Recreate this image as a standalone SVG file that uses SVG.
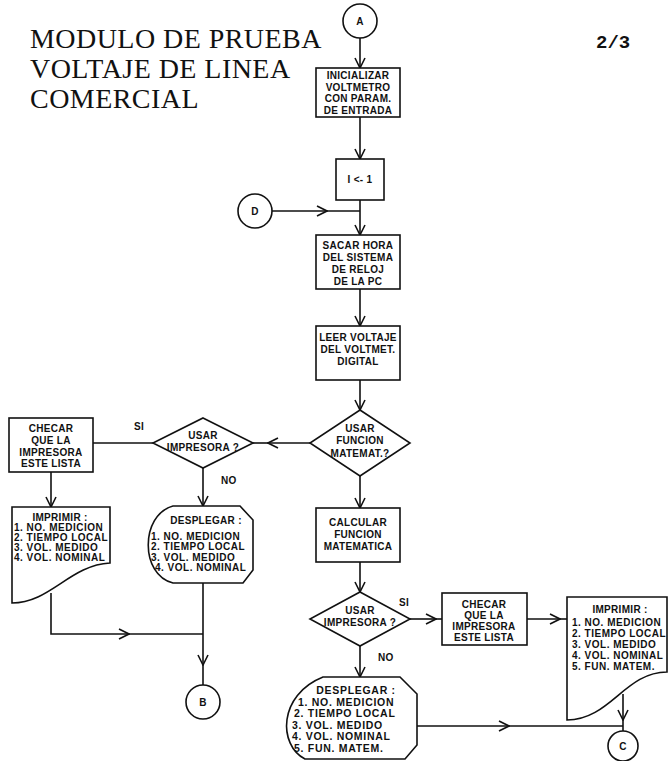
<svg xmlns="http://www.w3.org/2000/svg" width="668" height="761" viewBox="0 0 668 761">
  <style>
    .shape { fill: #ffffff; stroke: #111111; stroke-width: 1.6; }
    .wire { fill: none; stroke: #111111; stroke-width: 1.6; }
    .arrow { fill: none; stroke: #111111; stroke-width: 1.6; marker-end: url(#chev); }
    .t { font-family: "Liberation Sans", Arial, sans-serif; font-weight: bold; font-size: 10px; fill: #111111; letter-spacing: 0.3px; }
    .c { text-anchor: middle; }
    .list { letter-spacing: 0.5px; }
    .wide { font-size: 10.5px; letter-spacing: 0.7px; }
    .title { font-family: "Liberation Serif", "Times New Roman", serif; font-size: 28px; letter-spacing: 0.45px; fill: #111111; }
    .page { font-family: "Liberation Mono", "Courier New", monospace; font-size: 19px; font-weight: bold; fill: #111111; }
  </style>
  <defs>
    <marker id="chev" markerUnits="userSpaceOnUse" markerWidth="12" markerHeight="12" viewBox="0 0 12 12" refX="11" refY="6" orient="auto">
      <path d="M1,1 L11,6 L1,11" fill="none" stroke="#111111" stroke-width="1.6"/>
    </marker>
  </defs>
  <rect width="668" height="761" fill="#ffffff"/>

  <!-- heading and sheet number -->
  <g id="heading">
    <text class="title" x="30" y="48">MODULO DE PRUEBA</text>
    <text class="title" x="30" y="78">VOLTAJE DE LINEA</text>
    <text class="title" x="30" y="108">COMERCIAL</text>
    <text class="page" x="596" y="48">2/3</text>
  </g>

  <!-- connectors -->
  <g id="connectors">
    <line class="arrow" x1="360" y1="38" x2="360" y2="68"/>
    <line class="arrow" x1="360" y1="117" x2="360" y2="159"/>
    <line class="arrow" x1="360" y1="200" x2="360" y2="235"/>
    <line class="arrow" x1="272" y1="211" x2="327" y2="211"/>
    <line class="wire" x1="327" y1="211" x2="360" y2="211"/>
    <line class="arrow" x1="360" y1="289" x2="360" y2="326"/>
    <line class="arrow" x1="360" y1="380" x2="360" y2="410"/>
    <line class="arrow" x1="310" y1="443" x2="268" y2="443"/>
    <line class="wire" x1="268" y1="443" x2="253" y2="443"/>
    <line class="wire" x1="153" y1="443" x2="93" y2="443"/>
    <line class="arrow" x1="51" y1="472" x2="51" y2="507"/>
    <line class="arrow" x1="203" y1="468" x2="203" y2="506"/>
    <path class="arrow" d="M51,593 V634 H129"/>
    <line class="wire" x1="129" y1="634" x2="203" y2="634"/>
    <line class="arrow" x1="203" y1="583" x2="203" y2="665"/>
    <line class="wire" x1="203" y1="665" x2="203" y2="685"/>
    <line class="arrow" x1="360" y1="476" x2="360" y2="508"/>
    <line class="arrow" x1="360" y1="562" x2="360" y2="592"/>
    <line class="arrow" x1="410" y1="619" x2="436" y2="619"/>
    <line class="wire" x1="436" y1="619" x2="442" y2="619"/>
    <line class="arrow" x1="527" y1="619" x2="560" y2="619"/>
    <line class="wire" x1="560" y1="619" x2="567" y2="619"/>
    <line class="arrow" x1="360" y1="646" x2="360" y2="677"/>
    <line class="arrow" x1="417" y1="726" x2="509" y2="726"/>
    <line class="wire" x1="509" y1="726" x2="623" y2="726"/>
    <line class="arrow" x1="623" y1="694" x2="623" y2="720"/>
    <line class="wire" x1="623" y1="720" x2="623" y2="731"/>
    <text class="t" x="134" y="430">SI</text>
    <text class="t" x="221" y="484">NO</text>
    <text class="t" x="399" y="606">SI</text>
    <text class="t" x="378" y="661">NO</text>
  </g>

  <!-- main column -->
  <g id="conn-a">
    <circle class="shape" cx="360" cy="21" r="17"/>
    <text class="t c" x="360" y="25" font-size="9">A</text>
  </g>
  <g id="init-voltmeter">
    <rect class="shape" x="316" y="68" width="84" height="49"/>
    <text class="t c" x="358" y="79">INICIALIZAR</text>
    <text class="t c" x="358" y="90.5">VOLTMETRO</text>
    <text class="t c" x="358" y="102">CON PARAM.</text>
    <text class="t c" x="358" y="113.5">DE ENTRADA</text>
  </g>
  <g id="set-index">
    <rect class="shape" x="336" y="159" width="48" height="41"/>
    <text class="t c" x="360" y="183">I &lt;- 1</text>
  </g>
  <g id="conn-d">
    <circle class="shape" cx="255" cy="211" r="17"/>
    <text class="t c" x="255" y="215" font-size="9">D</text>
  </g>
  <g id="read-clock">
    <rect class="shape" x="316" y="235" width="84" height="54"/>
    <text class="t c" x="358" y="249">SACAR HORA</text>
    <text class="t c" x="358" y="261">DEL SISTEMA</text>
    <text class="t c" x="358" y="273">DE RELOJ</text>
    <text class="t c" x="358" y="285">DE LA PC</text>
  </g>
  <g id="read-voltage">
    <rect class="shape" x="316" y="326" width="84" height="54"/>
    <text class="t c" x="358" y="341">LEER VOLTAJE</text>
    <text class="t c" x="358" y="353">DEL VOLTMET.</text>
    <text class="t c" x="358" y="365">DIGITAL</text>
  </g>
  <g id="ask-function">
    <polygon class="shape" points="360,410 410,443 360,476 310,443"/>
    <text class="t c" x="360" y="432">USAR</text>
    <text class="t c" x="360" y="444">FUNCION</text>
    <text class="t c" x="360" y="457">MATEMAT.?</text>
  </g>

  <!-- branch without function -->
  <g id="ask-printer-1">
    <polygon class="shape" points="203,418 253,443 203,468 153,443"/>
    <text class="t c" x="203" y="439">USAR</text>
    <text class="t c" x="203" y="451">IMPRESORA ?</text>
  </g>
  <g id="check-printer-1">
    <rect class="shape" x="9" y="418" width="84" height="54"/>
    <text class="t c" x="51" y="432">CHECAR</text>
    <text class="t c" x="51" y="444">QUE LA</text>
    <text class="t c" x="51" y="456">IMPRESORA</text>
    <text class="t c" x="51" y="467">ESTE LISTA</text>
  </g>
  <g id="print-1">
    <path class="shape" d="M12,507 H110 V563 C70,565 50,603 12,603 Z"/>
    <text class="t c" x="60" y="521">IMPRIMIR :</text>
    <text class="t list" x="14" y="531">1. NO. MEDICION</text>
    <text class="t list" x="14" y="541">2. TIEMPO LOCAL</text>
    <text class="t list" x="14" y="551">3. VOL. MEDIDO</text>
    <text class="t list" x="14" y="561">4. VOL. NOMINAL</text>
  </g>
  <g id="display-1">
    <path class="shape" d="M173,506 H240 L253,520 V570 L243,583 H173 C140,575 140,515 173,506 Z"/>
    <text class="t c" x="206" y="524">DESPLEGAR :</text>
    <text class="t list" x="151" y="540">1. NO. MEDICION</text>
    <text class="t list" x="151" y="550">2. TIEMPO LOCAL</text>
    <text class="t list" x="151" y="560.5">3. VOL. MEDIDO</text>
    <text class="t list" x="155" y="570.5">4. VOL. NOMINAL</text>
  </g>
  <g id="conn-b">
    <circle class="shape" cx="203" cy="702" r="17"/>
    <text class="t c" x="203" y="706" font-size="9">B</text>
  </g>

  <!-- branch with function -->
  <g id="calc-function">
    <rect class="shape" x="316" y="508" width="84" height="54"/>
    <text class="t c" x="358" y="526">CALCULAR</text>
    <text class="t c" x="358" y="538">FUNCION</text>
    <text class="t c" x="358" y="550">MATEMATICA</text>
  </g>
  <g id="ask-printer-2">
    <polygon class="shape" points="360,592 410,619 360,646 310,619"/>
    <text class="t c" x="360" y="614">USAR</text>
    <text class="t c" x="360" y="626">IMPRESORA ?</text>
  </g>
  <g id="check-printer-2">
    <rect class="shape" x="442" y="593" width="85" height="52"/>
    <text class="t c" x="484" y="608">CHECAR</text>
    <text class="t c" x="484" y="619">QUE LA</text>
    <text class="t c" x="484" y="630">IMPRESORA</text>
    <text class="t c" x="484" y="641">ESTE LISTA</text>
  </g>
  <g id="print-2">
    <path class="shape" d="M567,597 H667 V672 C625,672 610,720 567,720 Z"/>
    <text class="t c" x="620" y="613">IMPRIMIR :</text>
    <text class="t list" x="572" y="625.5">1. NO. MEDICION</text>
    <text class="t list" x="572" y="636.5">2. TIEMPO LOCAL</text>
    <text class="t list" x="572" y="647.5">3. VOL. MEDIDO</text>
    <text class="t list" x="572" y="658.5">4. VOL. NOMINAL</text>
    <text class="t list" x="572" y="669.5">5. FUN. MATEM.</text>
  </g>
  <g id="display-2">
    <path class="shape" d="M323,677 H400 L417,694 V745 L405,759 H305 C278,745 278,695 323,677 Z"/>
    <text class="t wide c" x="356" y="693.5">DESPLEGAR :</text>
    <text class="t wide" x="298" y="705.5">1. NO. MEDICION</text>
    <text class="t wide" x="294" y="717">2. TIEMPO LOCAL</text>
    <text class="t wide" x="292" y="728.5">3. VOL. MEDIDO</text>
    <text class="t wide" x="292" y="740">4. VOL. NOMINAL</text>
    <text class="t wide" x="294" y="751.5">5. FUN. MATEM.</text>
  </g>
  <g id="conn-c">
    <circle class="shape" cx="623" cy="746" r="15"/>
    <text class="t c" x="623" y="750" font-size="9">C</text>
  </g>
</svg>
